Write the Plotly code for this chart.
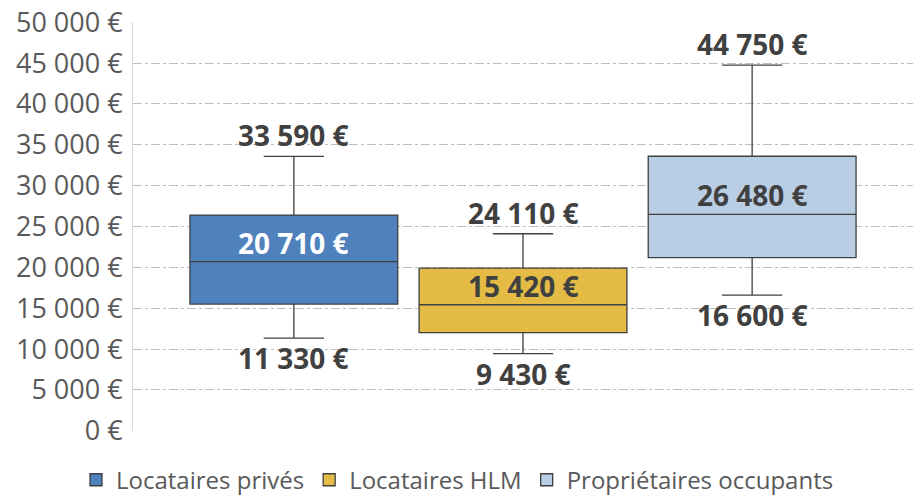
import plotly.graph_objects as go

categories = ["Locataires privés", "Locataires HLM", "Propriétaires occupants"]
lower_fence = [11330, 9430, 16600]
q1 = [15500, 12000, 21200]
median = [20710, 15420, 26480]
q3 = [26400, 19900, 33600]
upper_fence = [33590, 24110, 44750]
colors = ["#4F81BD", "#E3BB45", "#B9CDE5"]
median_label_colors = ["#FFFFFF", "#404040", "#404040"]
tick_values = list(range(0, 50001, 5000))


def fmt(v):
    return f"{v:,}".replace(",", " ") + " €"


tick_text = [fmt(v) for v in tick_values]

FONT = "Open Sans"
fig = go.Figure()
for i, name in enumerate(categories):
    fig.add_trace(go.Box(
        name=name,
        x=[i],
        q1=[q1[i]], median=[median[i]], q3=[q3[i]],
        lowerfence=[lower_fence[i]], upperfence=[upper_fence[i]],
        width=0.907,
        whiskerwidth=0.29,
        fillcolor=colors[i],
        line=dict(color="#404040", width=1.3),
        marker=dict(color=colors[i]),
        hoverinfo="skip",
        showlegend=True,
    ))
    fig.add_annotation(x=i, y=upper_fence[i], text=fmt(upper_fence[i]), showarrow=False,
                       yanchor="middle", yshift=21,
                       font=dict(family=FONT, size=28, color="#404040", weight="bold"))
    fig.add_annotation(x=i, y=lower_fence[i], text=fmt(lower_fence[i]), showarrow=False,
                       yanchor="middle", yshift=-20,
                       font=dict(family=FONT, size=28, color="#404040", weight="bold"))
    fig.add_annotation(x=i, y=median[i], text=fmt(median[i]), showarrow=False,
                       yanchor="middle", yshift=19,
                       font=dict(family=FONT, size=28, color=median_label_colors[i], weight="bold"))

fig.update_layout(
    width=915, height=495,
    margin=dict(l=133, r=2, t=22, b=64, autoexpand=False),
    paper_bgcolor="white", plot_bgcolor="white",
    boxmode="overlay",
    font=dict(family=FONT, color="#595959"),
    legend=dict(orientation="h", xref="container", x=0.5, xanchor="center",
                yref="container", y=0.03, yanchor="middle",
                font=dict(family=FONT, size=24, color="#595959"),
                itemwidth=30, tracegroupgap=0),
    xaxis=dict(range=[-0.702, 2.702], showticklabels=False, showgrid=False,
               zeroline=False, showline=False, ticks=""),
    yaxis=dict(range=[-30, 50030], tickvals=tick_values, ticktext=tick_text,
               tickfont=dict(family=FONT, size=27, color="#595959"),
               ticklabeloverflow="allow",
               showgrid=True, gridcolor="#BFBFBF", griddash="dashdot", gridwidth=1,
               zeroline=False, showline=True, linecolor="#D9D9D9", linewidth=1,
               ticks="", ticklabelstandoff=4),
)

# remove the browser's default 8px page margin so the figure fills the window
fig.write_html("out.html", config={"displayModeBar": False},
               post_script="document.body.style.margin='0';")
